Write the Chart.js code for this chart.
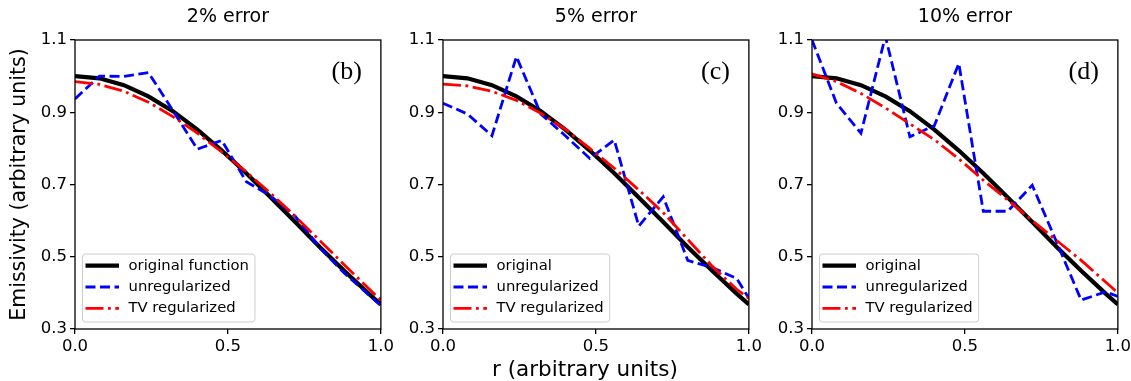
<!DOCTYPE html>
<html>
<head>
<meta charset="utf-8">
<script src="https://cdn.jsdelivr.net/npm/chart.js@4.4.1/dist/chart.umd.min.js"></script>
<style>
  body { margin: 0; background: #fff; }
  #wrap { position: relative; width: 1131px; height: 381px; overflow: hidden; }
  #wrap canvas { position: absolute; top: 0; }
</style>
</head>
<body>
<div id="wrap">
  <canvas id="p1" width="397" height="381" style="left:0px"></canvas>
  <canvas id="p2" width="397" height="381" style="left:368px"></canvas>
  <canvas id="p3" width="397" height="381" style="left:737px"></canvas>
</div>
<script>
// r grid shared by every curve
const r = [0, 0.08, 0.16, 0.24, 0.32, 0.40, 0.48, 0.56, 0.64, 0.72, 0.80, 0.88, 0.96, 1.0];

// original emissivity profile (same in all panels)
const original = [1.0, 0.994, 0.975, 0.944, 0.903, 0.852, 0.794, 0.731, 0.664, 0.596, 0.527, 0.461, 0.398, 0.368];

// 2% error
const unreg2 = [0.937, 1.0, 0.999, 1.01, 0.905, 0.798, 0.822, 0.708, 0.668, 0.612, 0.525, 0.455, 0.395, 0.365];
const tv2 = [0.985, 0.977, 0.958, 0.928, 0.888, 0.842, 0.79, 0.735, 0.675, 0.612, 0.545, 0.478, 0.412, 0.38];

// 5% error
const unreg5 = [0.925, 0.895, 0.835, 1.054, 0.895, 0.835, 0.772, 0.823, 0.585, 0.666, 0.49, 0.47, 0.44, 0.385];
const tv5 = [0.978, 0.973, 0.958, 0.933, 0.897, 0.853, 0.80, 0.745, 0.685, 0.622, 0.548, 0.474, 0.41, 0.385];

// 10% error
const unreg10 = [1.1, 0.925, 0.842, 1.11, 0.832, 0.863, 1.035, 0.626, 0.626, 0.698, 0.54, 0.38, 0.403, 0.39];
const tv10 = [1.006, 0.985, 0.952, 0.912, 0.868, 0.824, 0.771, 0.712, 0.657, 0.60, 0.545, 0.49, 0.43, 0.40];

const titles = ["2% error", "5% error", "10% error"];
const letters = ["(b)", "(c)", "(d)"];
const originalLabels = ["original function", "original", "original"];
const xTicks = [0.0, 0.5, 1.0];
const yTicks = [0.3, 0.5, 0.7, 0.9, 1.1];

Chart.defaults.font.family = "'DejaVu Sans', sans-serif";
Chart.defaults.color = "#000";

// frame, title, panel letter and the legend box inside the axes
const panelDecor = {
  id: "panelDecor",
  afterDatasetsDraw(chart, args, opts) {
    const ctx = chart.ctx, a = chart.chartArea;
    ctx.save();
    ctx.strokeStyle = "#000";
    ctx.lineWidth = 1.3;
    ctx.strokeRect(a.left, a.top, a.right - a.left, a.bottom - a.top);

    ctx.fillStyle = "#000";
    ctx.textBaseline = "middle";
    ctx.textAlign = "center";
    ctx.font = "19px 'DejaVu Sans'";
    ctx.fillText(opts.title, (a.left + a.right) / 2, 17);

    // shared x label sits under the middle panel
    if (opts.xlabel) {
      ctx.font = "21.5px 'DejaVu Sans'";
      ctx.fillText(opts.xlabel, (a.left + a.right) / 2 - 11, 370);
    }

    ctx.textAlign = "right";
    ctx.font = "26px 'Liberation Serif'";
    ctx.fillText(opts.letter, a.right - 19, a.top + 32);

    // legend
    ctx.font = "14.8px 'DejaVu Sans'";
    const sets = chart.data.datasets;
    let maxW = 0;
    sets.forEach(d => { maxW = Math.max(maxW, ctx.measureText(d.label).width); });
    const bw = 46 + maxW + 6, bh = 68;
    const bx = a.left + 7.5, by = a.bottom - 7 - bh;
    ctx.beginPath();
    ctx.roundRect(bx, by, bw, bh, 3);
    ctx.fillStyle = "rgba(255,255,255,0.8)";
    ctx.fill();
    ctx.strokeStyle = "#cccccc";
    ctx.lineWidth = 1;
    ctx.stroke();
    sets.forEach((d, k) => {
      const y = by + 11.7 + k * 21.3;
      ctx.beginPath();
      ctx.setLineDash(d.borderDash || []);
      ctx.strokeStyle = d.borderColor;
      ctx.lineWidth = d.borderWidth;
      ctx.moveTo(bx + 3, y);
      ctx.lineTo(bx + 36.5, y);
      ctx.stroke();
      ctx.setLineDash([]);
      ctx.fillStyle = "#000";
      ctx.textAlign = "left";
      ctx.fillText(d.label, bx + 46, y);
    });
    ctx.restore();
  }
};

function pts(vals) {
  return r.map((x, i) => ({ x: x, y: vals[i] }));
}

function makePanel(id, i, unreg, tv) {
  const tickFont = { size: 16.5 };
  new Chart(document.getElementById(id), {
    type: "line",
    data: {
      datasets: [
        { label: originalLabels[i], data: pts(original), borderColor: "#000000", borderWidth: 4.2, order: 2 },
        { label: "unregularized", data: pts(unreg), borderColor: "#0000ff", borderWidth: 2.8, borderDash: [10, 4.5], order: 1 },
        { label: "TV regularized", data: pts(tv), borderColor: "#ff0000", borderWidth: 2.8, borderDash: [18, 4.5, 2.8, 4.5], order: 0 }
      ]
    },
    options: {
      responsive: false,
      animation: false,
      elements: { point: { radius: 0 }, line: { tension: 0 } },
      layout: { padding: { top: 40, right: 15, left: 0, bottom: 0 } },
      plugins: {
        legend: { display: false },
        tooltip: { enabled: false },
        panelDecor: { title: titles[i], letter: letters[i], xlabel: i === 1 ? "r (arbitrary units)" : "" }
      },
      scales: {
        x: {
          type: "linear",
          min: 0, max: 1,
          afterBuildTicks: s => { s.ticks = xTicks.map(v => ({ value: v })); },
          afterFit: s => { s.height = 52; },
          ticks: { font: tickFont, autoSkip: false, maxRotation: 0, padding: 3, callback: v => v.toFixed(1) },
          grid: { drawOnChartArea: false, tickLength: 5, color: "#000", lineWidth: 1.3 },
          border: { display: false }
        },
        y: {
          min: 0.3, max: 1.1,
          afterBuildTicks: s => { s.ticks = yTicks.map(v => ({ value: v })); },
          afterFit: s => { s.width = 75; },
          ticks: { font: tickFont, autoSkip: false, padding: 3, callback: v => v.toFixed(1) },
          grid: { drawOnChartArea: false, tickLength: 5, color: "#000", lineWidth: 1.3 },
          border: { display: false },
          title: { display: i === 0, text: "Emissivity (arbitrary units)", font: { size: 20.5 }, padding: { top: 7.7, bottom: 0 } }
        }
      }
    },
    plugins: [panelDecor]
  });
}

makePanel("p1", 0, unreg2, tv2);
makePanel("p2", 1, unreg5, tv5);
makePanel("p3", 2, unreg10, tv10);
</script>
</body>
</html>
